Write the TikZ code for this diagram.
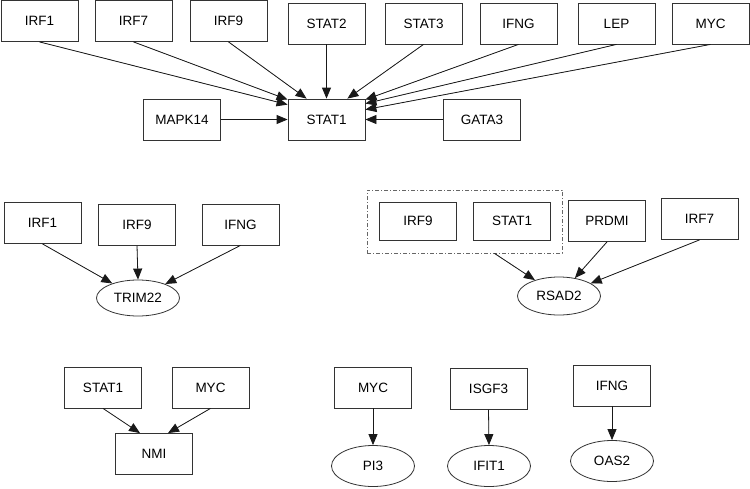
\documentclass[tikz,border=0pt]{standalone}
\usepackage{fontspec}
\setmainfont{Liberation Sans}
\usetikzlibrary{arrows.meta,calc,fit,shapes.geometric}
\begin{document}
\begin{tikzpicture}[x=1pt,y=-1pt,
  box/.style={draw=black!80,line width=0.8pt,minimum width=77pt,minimum height=41pt,inner sep=0pt,font=\fontsize{13.5}{15}\selectfont},
  ell/.style={draw=black!80,line width=0.8pt,ellipse,minimum width=83pt,minimum height=38pt,inner sep=0pt,font=\fontsize{13.5}{15}\selectfont},
  arr/.style={-{Triangle[length=11pt,width=9pt]},line width=0.8pt,draw=black!90,fill=black},
  grpbox/.style={draw=black!60,line width=0.8pt,dash pattern=on 4pt off 2pt on 1pt off 2pt,inner sep=0pt}]
\useasboundingbox (0,0) rectangle (750,488);
% top cluster
\node[box] (t1) at (39.5,21) {IRF1};
\node[box] (t2) at (133.5,21) {IRF7};
\node[box] (t3) at (228.5,21) {IRF9};
\node[box] (t4) at (326.5,23.5) {STAT2};
\node[box] (t5) at (423.5,23.5) {STAT3};
\node[box] (t6) at (518.5,23.5) {IFNG};
\node[box] (t7) at (616.5,23.5) {LEP};
\node[box] (t8) at (710.5,23.5) {MYC};
\node[box] (mapk) at (182,119.5) {MAPK14};
\node[box] (stat1) at (326.5,119.5) {STAT1};
\node[box] (gata) at (482,119.5) {GATA3};
\draw[arr] (t1.south) -- ($(stat1.north west)+(0,6)$);
\draw[arr] (t2.south) -- ($(stat1.north west)+(0,1)$);
\draw[arr] (t3.south) -- ($(stat1.north west)+(19,0)$);
\draw[arr] (t4.south) -- (stat1.north);
\draw[arr] (t5.south) -- ($(stat1.north east)+(-18,0)$);
\draw[arr] (t6.south) -- ($(stat1.north east)+(0,1)$);
\draw[arr] (t7.south) -- ($(stat1.north east)+(0,5)$);
\draw[arr] (t8.south) -- ($(stat1.north east)+(0,11)$);
\draw[arr] (mapk) -- (stat1);
\draw[arr] (gata) -- (stat1);
% TRIM22
\node[box] (m1) at (42.5,223) {IRF1};
\node[box] (m2) at (137,225) {IRF9};
\node[box] (m3) at (240.5,224.5) {IFNG};
\node[ell,minimum height=36pt] (trim) at (138,298) {TRIM22};
\draw[arr] (m1.south) -- (trim);
\draw[arr] (m2.south) -- (trim.north);
\draw[arr] (m3.south) -- (trim);
% RSAD2
\node[box,minimum height=38pt] (r1) at (418,221) {IRF9};
\node[box,minimum height=38pt] (r2) at (512,221) {STAT1};
\node[box] (r3) at (607,221) {PRDMI};
\node[box] (r4) at (699.5,219) {IRF7};
\node[grpbox,fit={(367,190) (562,253)}] (grp) {};
\node[ell] (rsad) at (559,296) {RSAD2};
\draw[arr] ($(grp.south)+(30,0)$) -- (rsad);
\draw[arr] (r3.south) -- (rsad);
\draw[arr] (r4.south) -- (rsad);
% NMI
\node[box] (n1) at (103,387.5) {STAT1};
\node[box] (n2) at (210.5,387.5) {MYC};
\node[box] (nmi) at (154,454) {NMI};
\draw[arr] (n1.south) -- ($(nmi.north)+(-14,0)$);
\draw[arr] (n2.south) -- ($(nmi.north)+(14,0)$);
% PI3, IFIT1, OAS2
\node[box] (p1) at (373,387.5) {MYC};
\node[ell,minimum height=41pt] (pi3) at (373,466) {PI3};
\draw[arr] (p1.south) -- (pi3.north);
\node[box] (p2) at (488.5,389) {ISGF3};
\node[ell,minimum height=41pt] (ifit) at (489,466) {IFIT1};
\draw[arr] (p2.south) -- (ifit.north);
\node[box] (p3) at (612,385.5) {IFNG};
\node[ell,minimum height=41pt] (oas) at (612,461) {OAS2};
\draw[arr] (p3.south) -- (oas.north);
\end{tikzpicture}
\end{document}
